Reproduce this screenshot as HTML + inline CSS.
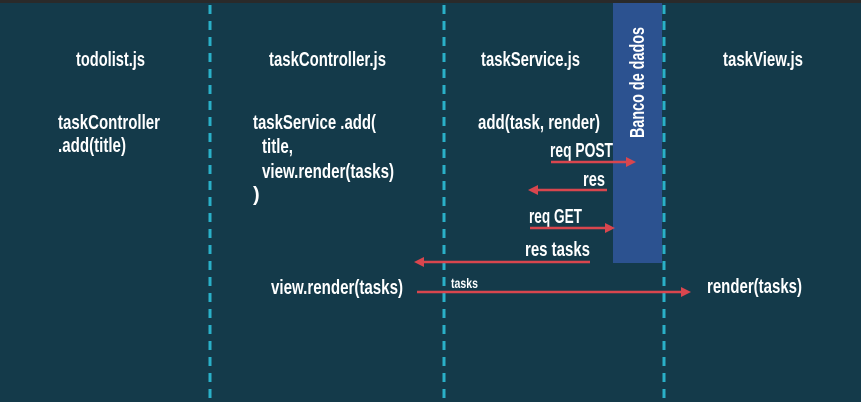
<!DOCTYPE html>
<html><head><style>
html,body{margin:0;padding:0;background:#143a4a;}
svg{display:block}
text{font-family:"Liberation Sans",sans-serif;font-weight:bold;fill:#fff;font-size:20px}
</style></head><body>
<svg width="861" height="402" viewBox="0 0 861 402" xmlns="http://www.w3.org/2000/svg">
<rect x="0" y="0" width="861" height="402" fill="#143a4a"/>
<rect x="0" y="0" width="861" height="3" fill="#2a2a2a"/>
<rect x="613" y="3" width="49" height="260" fill="#2c5290"/>
<g stroke="#2ab0c8" stroke-width="3" stroke-dasharray="9,7">
<line x1="210" y1="5" x2="210" y2="402"/>
<line x1="444" y1="5" x2="444" y2="402"/>
<line x1="664" y1="5" x2="664" y2="402"/>
</g>
<text x="76" y="66" textLength="69" lengthAdjust="spacingAndGlyphs">todolist.js</text>
<text x="269" y="66" textLength="117" lengthAdjust="spacingAndGlyphs">taskController.js</text>
<text x="481" y="66" textLength="99" lengthAdjust="spacingAndGlyphs">taskService.js</text>
<text x="723" y="66" textLength="80" lengthAdjust="spacingAndGlyphs">taskView.js</text>
<text x="58" y="129" textLength="102" lengthAdjust="spacingAndGlyphs">taskController</text>
<text x="58" y="152" textLength="68" lengthAdjust="spacingAndGlyphs">.add(title)</text>
<text x="253" y="129" textLength="123" lengthAdjust="spacingAndGlyphs">taskService .add(</text>
<text x="262" y="153" textLength="31" lengthAdjust="spacingAndGlyphs">title,</text>
<text x="262" y="178" textLength="132" lengthAdjust="spacingAndGlyphs">view.render(tasks)</text>
<text x="253" y="201">)</text>
<text x="478" y="129" textLength="122" lengthAdjust="spacingAndGlyphs">add(task, render)</text>
<text x="550" y="157" textLength="63" lengthAdjust="spacingAndGlyphs">req POST</text>
<text x="583" y="186" textLength="22" lengthAdjust="spacingAndGlyphs">res</text>
<text x="529" y="223" textLength="53" lengthAdjust="spacingAndGlyphs">req GET</text>
<text x="525" y="256" textLength="65" lengthAdjust="spacingAndGlyphs">res tasks</text>
<text x="271" y="294" textLength="132" lengthAdjust="spacingAndGlyphs">view.render(tasks)</text>
<text x="707" y="293" textLength="95" lengthAdjust="spacingAndGlyphs">render(tasks)</text>
<text x="451" y="288" style="font-size:14px" textLength="27" lengthAdjust="spacingAndGlyphs">tasks</text>
<text transform="translate(644,138) rotate(-90)" textLength="111" lengthAdjust="spacingAndGlyphs">Banco de dados</text>
<g stroke="#d9464e" stroke-width="2.5" fill="#d9464e">
<line x1="551" y1="162" x2="628" y2="162"/><polygon points="636,162 626,157 626,167" stroke="none"/>
<line x1="607" y1="190" x2="536" y2="190"/><polygon points="528,190 538,185 538,195" stroke="none"/>
<line x1="530" y1="228" x2="607" y2="228"/><polygon points="615,228 605,223 605,233" stroke="none"/>
<line x1="590" y1="262" x2="422" y2="262"/><polygon points="414,262 424,257 424,267" stroke="none"/>
<line x1="417" y1="292" x2="682" y2="292"/><polygon points="691,292 681,287 681,297" stroke="none"/>
</g>
</svg>
</body></html>
